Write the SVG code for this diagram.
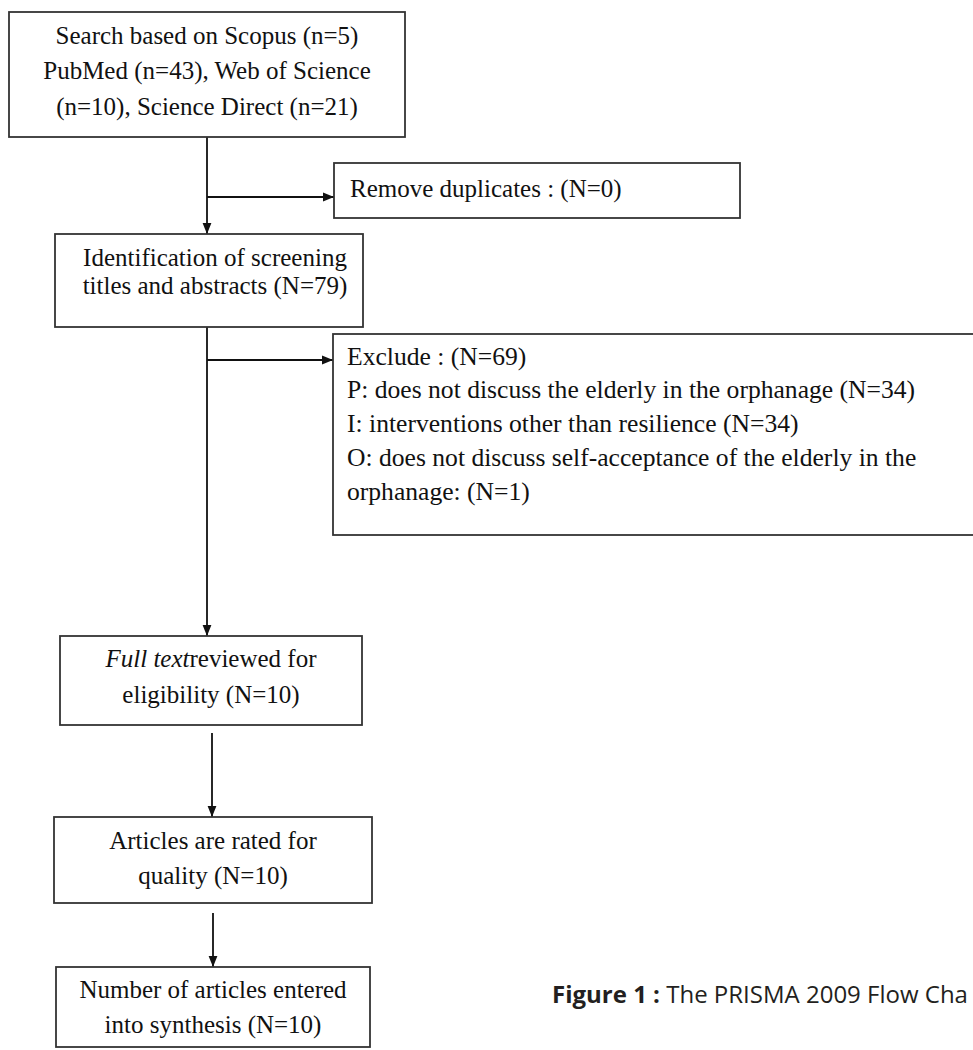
<svg xmlns="http://www.w3.org/2000/svg" width="973" height="1050" viewBox="0 0 973 1050">
<defs>
<style>
.box{fill:#fff;stroke:#333;stroke-width:1.8}
.t{font-family:"Liberation Serif","Times New Roman",serif;font-size:25px;fill:#111}
.x{font-size:25.6px}
.c{text-anchor:middle}
.ln{stroke:#111;stroke-width:1.8;fill:none}
.cap{font-family:"Open Sans",Lato,sans-serif;font-size:24px;fill:#231f20}
</style>
<marker id="ah" viewBox="0 0 10 10" refX="10" refY="5" markerWidth="11" markerHeight="11" markerUnits="userSpaceOnUse" orient="auto">
<path d="M0,1 L10,5 L0,9 Z" fill="#111"/>
</marker>
</defs>
<rect width="973" height="1050" fill="#fff"/>
<g id="connectors">
<path class="ln" d="M207,137 V234" marker-end="url(#ah)"/>
<path class="ln" d="M207,197 H334" marker-end="url(#ah)"/>
<path class="ln" d="M207,327 V636" marker-end="url(#ah)"/>
<path class="ln" d="M207,360 H333" marker-end="url(#ah)"/>
<path class="ln" d="M212,733 V817" marker-end="url(#ah)"/>
<path class="ln" d="M213,913 V967" marker-end="url(#ah)"/>
</g>
<g id="search">
<rect class="box" x="9" y="12" width="396" height="125"/>
<text class="t c" x="207" y="44">Search based on Scopus (n=5)</text>
<text class="t c" x="207" y="79">PubMed (n=43), Web of Science</text>
<text class="t c" x="207" y="115">(n=10), Science Direct (n=21)</text>
</g>
<g id="duplicates">
<rect class="box" x="334" y="163" width="406" height="55"/>
<text class="t" x="350" y="197">Remove duplicates : (N=0)</text>
</g>
<g id="screening">
<rect class="box" x="55" y="234" width="308" height="93"/>
<text class="t c" x="215" y="266">Identification of screening</text>
<text class="t c" x="215" y="294">titles and abstracts (N=79)</text>
</g>
<g id="exclude">
<rect class="box" x="333" y="334" width="660" height="201"/>
<text class="t x" x="347" y="365">Exclude : (N=69)</text>
<text class="t x" x="347" y="398">P: does not discuss the elderly in the orphanage (N=34)</text>
<text class="t x" x="347" y="432">I: interventions other than resilience (N=34)</text>
<text class="t x" x="347" y="466">O: does not discuss self-acceptance of the elderly in the</text>
<text class="t x" x="347" y="500">orphanage: (N=1)</text>
</g>
<g id="fulltext">
<rect class="box" x="60" y="636" width="302" height="89"/>
<text class="t c" x="211" y="667"><tspan font-style="italic">Full text</tspan>reviewed for</text>
<text class="t c" x="211" y="703">eligibility (N=10)</text>
</g>
<g id="quality">
<rect class="box" x="54" y="817" width="318" height="86"/>
<text class="t c" x="213" y="849">Articles are rated for</text>
<text class="t c" x="213" y="884">quality (N=10)</text>
</g>
<g id="synthesis">
<rect class="box" x="56" y="967" width="314" height="80"/>
<text class="t c" x="213" y="998">Number of articles entered</text>
<text class="t c" x="213" y="1033">into synthesis (N=10)</text>
</g>
<g id="caption">
<text class="cap" x="552" y="1003"><tspan font-weight="bold">Figure 1 :</tspan> The PRISMA 2009 Flow Cha</text>
</g>
</svg>
